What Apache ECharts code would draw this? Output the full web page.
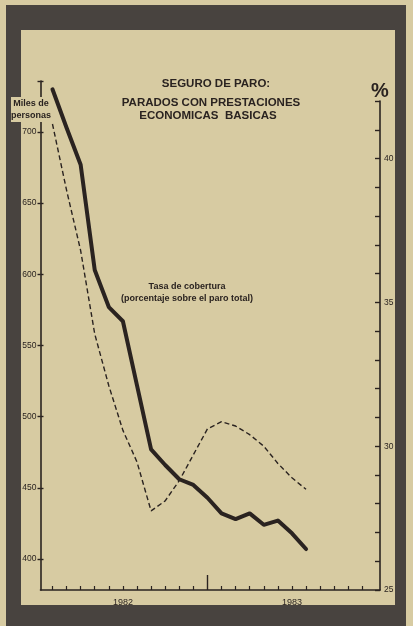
<!DOCTYPE html>
<html>
<head>
<meta charset="utf-8">
<script src="https://cdn.jsdelivr.net/npm/echarts@6/dist/echarts.min.js"></script>
<style>
  html, body { margin: 0; padding: 0; background: #d7cba2; }
  #frame { position: absolute; left: 6px; top: 5px; width: 400px; height: 621px; background: #48433f; }
  #inner { position: absolute; left: 21px; top: 30px; width: 374px; height: 575px; background: #d7cba2; }
  #chart { position: absolute; left: 0; top: 0; width: 413px; height: 626px; }
</style>
</head>
<body>
<div id="frame"></div>
<div id="inner"></div>
<div id="chart"></div>
<script>
// months counted from start of 1982 (1 = end of January 1982)
const months = [1, 2, 3, 4, 5, 6, 7, 8, 9, 10, 11, 12, 13, 14, 15, 16, 17, 18, 19];
// Parados con prestaciones económicas básicas (miles de personas)
const paradosMiles = [730, 703, 677, 603, 577, 567, 522, 477, 466, 456, 452, 443, 432, 428, 432, 424, 427, 418, 407];
// Tasa de cobertura (% sobre el paro total)
const tasaCobertura = [41.2, 38.9, 36.8, 33.9, 32.1, 30.55, 29.45, 27.75, 28.1, 28.8, 29.7, 30.6, 30.85, 30.7, 30.4, 30.0, 29.4, 28.9, 28.5];
const leftTicks = [400, 450, 500, 550, 600, 650, 700];
const rightTicks = [25, 30, 35, 40];
const yearLabels = ['1982', '1983'];
const yearLabelPos = [6, 18];
const monthTicks = [1, 2, 3, 4, 5, 6, 7, 8, 9, 10, 11, 13, 14, 15, 16, 17, 18, 19, 20, 21, 22, 23];
const yearBoundary = [12];

const ink = '#2a2320';
const paper = '#d7cba2';
const font = 'Liberation Sans';

const chart = echarts.init(document.getElementById('chart'), null, { renderer: 'canvas' });

const xMin = 0.15, xMax = 24.25;
const gLeft = 40.5, gWidth = 339.5;

chart.setOption({
  backgroundColor: 'transparent',
  animation: false,
  textStyle: { fontFamily: font, color: ink },
  grid: [
    { left: gLeft, width: gWidth, top: 81, height: 509 },
    { left: gLeft, width: gWidth, top: 101, height: 489 }
  ],
  xAxis: [
    {
      type: 'value', gridIndex: 0, min: xMin, max: xMax, position: 'bottom',
      axisLine: { show: true, lineStyle: { color: ink, width: 1.6 } },
      axisTick: { show: true, inside: true, length: 4, customValues: monthTicks, lineStyle: { color: ink, width: 1.2 } },
      axisLabel: { show: true, customValues: yearLabelPos, margin: 8, fontSize: 9, color: ink, fontFamily: font,
        formatter: v => yearLabels[yearLabelPos.indexOf(v)] },
      splitLine: { show: false }
    },
    {
      type: 'value', gridIndex: 1, min: xMin, max: xMax, position: 'bottom',
      axisLine: { show: false },
      axisTick: { show: true, inside: true, length: 15, customValues: yearBoundary, lineStyle: { color: ink, width: 1.4 } },
      axisLabel: { show: false },
      splitLine: { show: false }
    }
  ],
  yAxis: [
    {
      type: 'value', gridIndex: 0, position: 'left', min: 378.2, max: 735.8,
      axisLine: { show: true, lineStyle: { color: ink, width: 1.6 } },
      axisTick: { show: true, inside: false, length: 3, customValues: leftTicks.concat([735.8]), lineStyle: { color: ink, width: 1.4 } },
      axisLabel: { show: true, customValues: leftTicks, margin: 4, fontSize: 8.5, color: ink, fontFamily: font },
      splitLine: { show: false }
    },
    {
      type: 'value', gridIndex: 0, position: 'left', min: 378.2, max: 735.8,
      axisLine: { show: false },
      axisTick: { show: true, inside: true, length: 3, customValues: leftTicks.concat([735.8]), lineStyle: { color: ink, width: 1.4 } },
      axisLabel: { show: false },
      splitLine: { show: false }
    },
    {
      type: 'value', gridIndex: 1, position: 'right', min: 25, max: 42, interval: 1,
      axisLine: { show: true, lineStyle: { color: ink, width: 1.6 } },
      axisTick: { show: true, inside: true, length: 5, lineStyle: { color: ink, width: 1.4 } },
      axisLabel: { show: true, customValues: rightTicks, margin: 4, fontSize: 8.5, color: ink, fontFamily: font },
      splitLine: { show: false }
    }
  ],
  series: [
    {
      name: 'Parados', type: 'line', xAxisIndex: 0, yAxisIndex: 0,
      data: months.map((m, i) => [m, paradosMiles[i]]),
      showSymbol: false, symbol: 'none',
      lineStyle: { color: ink, width: 4, join: 'round', cap: 'round' },
      z: 5
    },
    {
      name: 'Tasa de cobertura', type: 'line', xAxisIndex: 1, yAxisIndex: 2,
      data: months.map((m, i) => [m, tasaCobertura[i]]),
      showSymbol: false, symbol: 'none',
      lineStyle: { color: ink, width: 1.4, type: [5, 3] },
      z: 4
    }
  ],
  graphic: [
    { type: 'rect', z: 100, shape: { x: 11, y: 97, width: 41, height: 25 }, style: { fill: paper } },
    { type: 'text', z: 101, x: 31, y: 104, style: { text: 'Miles de', fontSize: 9, fontWeight: 'bold', fontFamily: font, fill: ink, align: 'center', verticalAlign: 'middle' } },
    { type: 'text', z: 101, x: 31, y: 116, style: { text: 'personas', fontSize: 9, fontWeight: 'bold', fontFamily: font, fill: ink, align: 'center', verticalAlign: 'middle' } },
    { type: 'text', z: 101, x: 380, y: 91, style: { text: '%', fontSize: 20, fontWeight: 'bold', fontFamily: font, fill: ink, align: 'center', verticalAlign: 'middle' } },
    { type: 'text', z: 101, x: 216, y: 84, style: { text: 'SEGURO DE PARO:', fontSize: 11.5, fontWeight: 'bold', fontFamily: font, fill: ink, align: 'center', verticalAlign: 'middle' } },
    { type: 'text', z: 101, x: 211, y: 103, style: { text: 'PARADOS CON PRESTACIONES', fontSize: 11.5, fontWeight: 'bold', fontFamily: font, fill: ink, align: 'center', verticalAlign: 'middle' } },
    { type: 'text', z: 101, x: 208, y: 116, style: { text: 'ECONOMICAS  BASICAS', fontSize: 11.5, fontWeight: 'bold', fontFamily: font, fill: ink, align: 'center', verticalAlign: 'middle' } },
    { type: 'text', z: 101, x: 187, y: 287, style: { text: 'Tasa de cobertura', fontSize: 9, fontWeight: 'bold', fontFamily: font, fill: ink, align: 'center', verticalAlign: 'middle' } },
    { type: 'text', z: 101, x: 187, y: 299, style: { text: '(porcentaje sobre el paro total)', fontSize: 9, fontWeight: 'bold', fontFamily: font, fill: ink, align: 'center', verticalAlign: 'middle' } }
  ]
});
</script>
</body>
</html>
